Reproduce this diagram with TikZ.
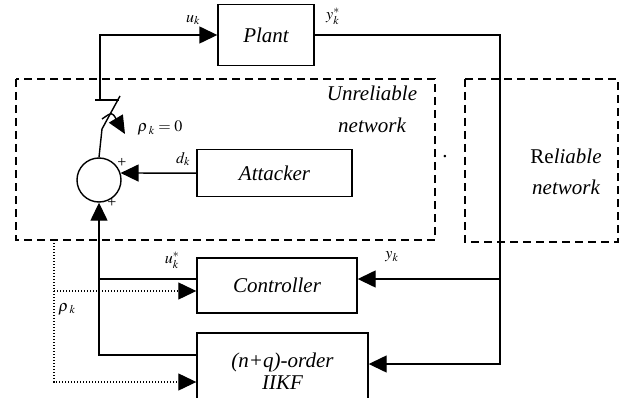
\documentclass[tikz,border=0pt]{standalone}
\usepackage{mathptmx}
\usepackage{fontspec}
\setmainfont{Liberation Serif}
\usepackage{tikz}
\usetikzlibrary{arrows.meta}

\begin{document}
\begin{tikzpicture}[x=1pt,y=-1pt,line width=1.4pt,
    block/.style={draw, rectangle, inner sep=0pt, font=\fontsize{21}{22}\selectfont\itshape},
    arr/.style={-{Triangle[length=18pt,width=17pt]}},
    netbox/.style={draw, dash pattern=on 8pt off 5pt},
    dots/.style={line width=1.2pt, dash pattern=on 1.4pt off 1.6pt},
    sig/.style={font=\fontsize{16}{18}\selectfont, inner sep=0pt},
    plus/.style={font=\fontsize{16}{16}\selectfont, inner sep=0pt}]
    \useasboundingbox (0,0) rectangle (628,398);

    % Networks
    \draw[netbox] (16,79) rectangle (435,240);
    \draw[netbox] (465,79) rectangle (618,242);
    \node[font=\fontsize{21}{32}\selectfont\itshape, align=center] (unrel) at (372,109) {Unreliable\\network};
    \node[font=\fontsize{21}{31}\selectfont\itshape, align=center] (rel) at (566,172) {{\upshape Re}liable\\network};
    \node[font=\fontsize{21}{22}\selectfont] (dot) at (445,157) {.};

    % Blocks
    \node[block, minimum width=96pt, minimum height=61pt] (plant) at (266,35) {Plant};
    \node[block, minimum width=155pt, minimum height=47pt] (attacker) at (274.5,173.2) {Attacker};
    \node[block, minimum width=160pt, minimum height=55pt] (controller) at (277,285.5) {Controller};
    \node[block, minimum width=171pt, minimum height=76pt, align=center] (iikf) at (282.5,371) {(n+q)-order\\IIKF};
    \node[draw, circle, minimum size=44pt, inner sep=0pt] (sum) at (99,180) {};

    % Switch
    \coordinate (swtop) at (100,100);
    \coordinate (swbot) at (102,129);
    \draw[arr] (swtop) |- (plant.west);
    \draw (95,100) -- (119,100);
    \draw (120,96) -- (swbot);
    \draw (swbot) -- (sum.north);
    \draw[-{Triangle[length=18pt,width=16pt]}] (102,119) .. controls (112,112) .. (125,134);

    % Measurement
    \coordinate (ytap) at (500,279);
    \draw[arr] (plant.east) -| (ytap) |- ([yshift=7pt]iikf.east);
    \draw[arr] (ytap) -- ([yshift=6.5pt]controller.east);

    % Control and attack
    \draw[arr] (attacker.west) -- (sum.18);
    \draw ([yshift=6.5pt]controller.west) -- ([yshift=6.5pt]controller.west -| sum.south);
    \draw[arr] ([yshift=16pt]iikf.west) -| (sum.south);

    % Packet loss indicator
    \coordinate (rho) at (54,240);
    \draw[dots, arr] (rho) |- ([yshift=-11pt]iikf.west);
    \draw[dots, arr] ([yshift=-5.5pt]controller.west -| rho) -- ([yshift=-5.5pt]controller.west);

    % Labels
    \node[sig] (uk) at (193,20) {$u_k$};
    \node[sig] (ykstar) at (333,16) {$y_k^*$};
    \node[sig] (dk) at (183,159) {$d_k$};
    \node[sig] (rhozero) at (160,128) {$\rho_{\kern2.5pt k} = 0$};
    \node[sig] (ukstar) at (172,260) {$u_k^*$};
    \node[sig] (yk) at (392,257) {$y_k$};
    \node[sig] (rhok) at (67,309) {$\rho_{\kern2.5pt k}$};
    \node[plus] (plusa) at (122,163) {+};
    \node[plus] (plusb) at (112,203) {+};
\end{tikzpicture}
\end{document}
